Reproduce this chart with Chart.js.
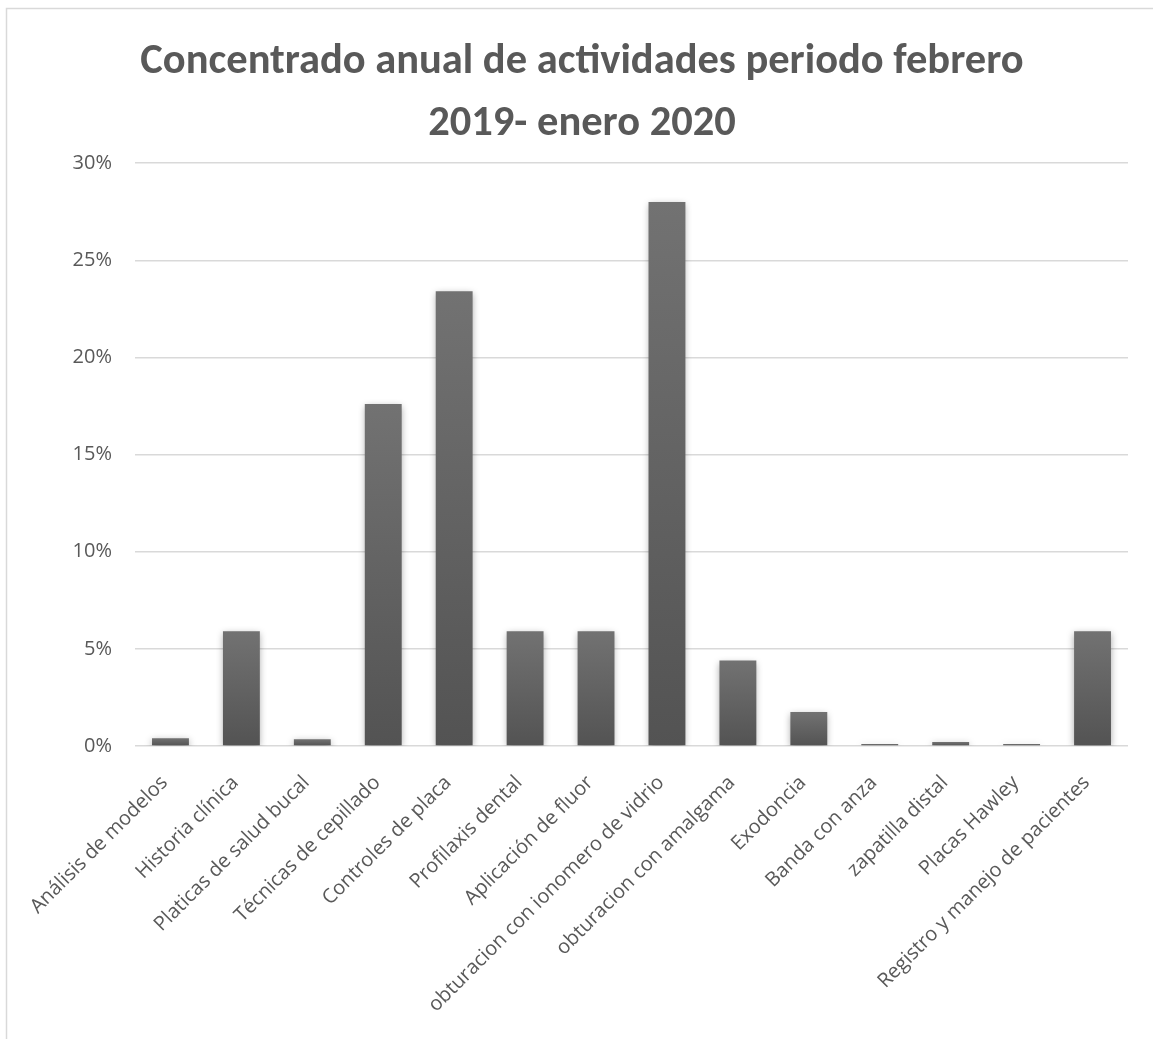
<!DOCTYPE html>
<html lang="es">
<head>
<meta charset="utf-8">
<title>Concentrado anual de actividades</title>
<script src="https://cdn.jsdelivr.net/npm/chart.js@4.4.1/dist/chart.umd.min.js"></script>
<style>
  html, body { margin: 0; padding: 0; background: #ffffff; }
  #wrap { position: relative; width: 1153px; height: 1039px; }
</style>
</head>
<body>
<div id="wrap"><canvas id="grafica"></canvas></div>
<script>
// Actividades del periodo y su porcentaje sobre el total anual
const categorias = [
  'Análisis de modelos',
  'Historia clínica',
  'Platicas de salud bucal',
  'Técnicas de cepillado',
  'Controles de placa',
  'Profilaxis dental',
  'Aplicación de fluor',
  'obturacion con ionomero de vidrio',
  'obturacion con amalgama',
  'Exodoncia',
  'Banda con anza',
  'zapatilla distal',
  'Placas Hawley',
  'Registro y manejo de pacientes'
];
const porcentajes = [0.4, 5.9, 0.35, 17.6, 23.4, 5.9, 5.9, 28.0, 4.4, 1.75, 0.1, 0.2, 0.1, 5.9];
const titulo = ['Concentrado anual de actividades periodo febrero', '2019- enero 2020'];
const ejeY = { min: 0, max: 30, paso: 5 };

const FUENTE_TITULO = "Carlito, Calibri, Lato, sans-serif";
const FUENTE = "'Open Sans', 'Noto Sans', sans-serif";
const GRIS_TEXTO = '#595959';
const GRIS_REJILLA = '#d9d9d9';

// Degradado vertical propio de cada barra
function rellenoBarra(ctx) {
  const chart = ctx.chart;
  if (!chart.chartArea || ctx.type !== 'data') return '#626262';
  const y = chart.scales.y;
  const arriba = y.getPixelForValue(ctx.raw);
  const base = y.getPixelForValue(0);
  if (base - arriba < 1) return '#666666';
  const g = chart.ctx.createLinearGradient(0, arriba, 0, base);
  g.addColorStop(0, '#727272');
  g.addColorStop(1, '#535353');
  return g;
}

// Marco exterior del gráfico y sombra suave de las barras
const marco = {
  id: 'marco',
  beforeDraw(chart) {
    const c = chart.ctx;
    c.save();
    c.strokeStyle = GRIS_REJILLA;
    c.lineWidth = 1.5;
    c.beginPath();
    c.moveTo(6.5, chart.height + 5);
    c.lineTo(6.5, 8.5);
    c.lineTo(chart.width + 5, 8.5);
    c.stroke();
    c.restore();
  }
};
const sombra = {
  id: 'sombra',
  beforeDatasetsDraw(chart) {
    const c = chart.ctx;
    c.save();
    c.shadowColor = 'rgba(0,0,0,0.35)';
    c.shadowBlur = 7;
    c.shadowOffsetX = 0;
    c.shadowOffsetY = 2;
  },
  afterDatasetsDraw(chart) {
    chart.ctx.restore();
  }
};

new Chart(document.getElementById('grafica'), {
  type: 'bar',
  data: {
    labels: categorias,
    datasets: [{
      data: porcentajes,
      backgroundColor: rellenoBarra,
      borderWidth: 0,
      categoryPercentage: 1,
      barPercentage: 0.52
    }]
  },
  options: {
    responsive: true,
    maintainAspectRatio: false,
    animation: false,
    devicePixelRatio: 1,
    layout: { padding: { top: 0, right: 25, bottom: 0, left: 36 } },
    plugins: {
      legend: { display: false },
      tooltip: { enabled: false },
      title: {
        display: true,
        text: titulo,
        color: GRIS_TEXTO,
        font: { family: FUENTE_TITULO, size: 42.5, weight: 'bold', lineHeight: 1.46 },
        padding: { top: 31, bottom: 8 }
      }
    },
    scales: {
      x: {
        grid: { display: false, drawTicks: false },
        border: { display: false },
        ticks: {
          color: GRIS_TEXTO,
          font: { family: FUENTE, size: 20 },
          maxRotation: 45,
          minRotation: 45,
          autoSkip: false,
          padding: 25,
          labelOffset: -6
        },
        afterFit(scale) { scale.height = 293; }
      },
      y: {
        min: ejeY.min,
        max: ejeY.max,
        grid: { color: GRIS_REJILLA, lineWidth: 1.5, drawTicks: false },
        border: { display: false },
        ticks: {
          stepSize: ejeY.paso,
          color: GRIS_TEXTO,
          font: { family: FUENTE, size: 20 },
          padding: 23,
          callback: (v) => v + '%'
        },
        afterFit(scale) { scale.width = 99; }
      }
    }
  },
  plugins: [marco, sombra]
});
</script>
</body>
</html>
